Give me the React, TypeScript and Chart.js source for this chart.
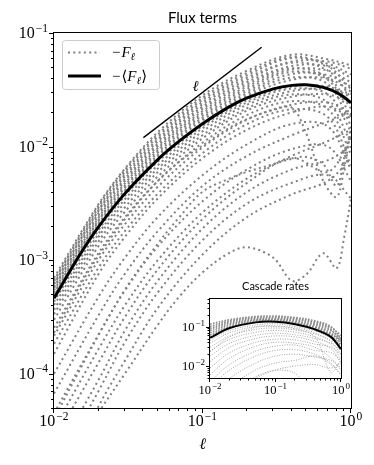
import React, { useEffect, useRef } from 'react';
import { Chart, registerables } from 'chart.js';

Chart.register(...registerables);

// ---------------- data ----------------
const ellCoarse = [0.01, 0.02, 0.03, 0.05, 0.1, 0.2, 0.4, 0.7, 1.0];
const ellFine = [0.01, 0.015, 0.02, 0.03, 0.05, 0.07, 0.1, 0.15, 0.2, 0.3, 0.4, 0.5, 0.65, 0.8, 0.9, 1.0];

const meanFlux = [4.62e-4, 1.127e-3, 1.977e-3, 3.855e-3, 7.69e-3, 1.122e-2, 1.592e-2, 2.228e-2, 2.685e-2, 3.221e-2, 3.459e-2, 3.499e-2, 3.319e-2, 2.992e-2, 2.723e-2, 2.427e-2];

// runs above the mean (coarse grid)
const fluxUpperBand = [
  [7.0e-4, 3.13e-3, 6.4e-3, 1.34e-2, 2.83e-2, 4.67e-2, 6.44e-2, 5.86e-2, 5.19e-2],
  [6.68e-4, 3.06e-3, 6.25e-3, 1.28e-2, 2.7e-2, 4.46e-2, 6.15e-2, 5.35e-2, 4.32e-2],
  [6.53e-4, 2.92e-3, 5.97e-3, 1.22e-2, 2.58e-2, 4.26e-2, 6.01e-2, 5.1e-2, 3.2e-2],
  [6.24e-4, 2.79e-3, 5.7e-3, 1.16e-2, 2.47e-2, 4.06e-2, 5.61e-2, 5.6e-2, 4.84e-2],
  [6.1e-4, 2.73e-3, 5.45e-3, 1.11e-2, 2.36e-2, 3.88e-2, 5.48e-2, 4.66e-2, 2.72e-2],
  [5.82e-4, 2.61e-3, 5.2e-3, 1.06e-2, 2.25e-2, 3.71e-2, 5.12e-2, 5.1e-2, 4.03e-2],
  [5.69e-4, 2.49e-3, 4.97e-3, 1.01e-2, 2.15e-2, 3.54e-2, 4.89e-2, 4.06e-2, 2.16e-2],
  [5.43e-4, 2.38e-3, 4.74e-3, 9.68e-3, 2.05e-2, 3.38e-2, 4.78e-2, 4.66e-2, 3.67e-2],
  [5.19e-4, 2.27e-3, 4.53e-3, 9.25e-3, 1.96e-2, 3.23e-2, 4.56e-2, 3.87e-2, 1.84e-2],
  [5.07e-4, 2.22e-3, 4.33e-3, 8.83e-3, 1.87e-2, 3.08e-2, 4.36e-2, 4.25e-2, 3.35e-2],
  [4.84e-4, 2.12e-3, 4.13e-3, 8.43e-3, 1.79e-2, 2.94e-2, 4.06e-2, 3.53e-2, 1.53e-2],
  [4.73e-4, 2.02e-3, 4.04e-3, 8.05e-3, 1.71e-2, 2.81e-2, 3.88e-2, 3.96e-2, 3.05e-2],
];

// runs just below the mean (coarse grid)
const fluxNearBand = [
  [4.32e-4, 1.85e-3, 3.68e-3, 7.35e-3, 1.52e-2, 2.56e-2, 3.38e-2, 3.37e-2, 2.72e-2],
  [4.03e-4, 1.72e-3, 3.44e-3, 6.85e-3, 1.45e-2, 2.45e-2, 3.23e-2, 2.87e-2, 1.36e-2],
  [3.67e-4, 1.61e-3, 3.21e-3, 6.4e-3, 1.36e-2, 2.34e-2, 3.08e-2, 3.22e-2, 2.92e-2],
  [3.35e-4, 1.47e-3, 2.92e-3, 5.97e-3, 1.26e-2, 2.18e-2, 2.88e-2, 2.44e-2, 1.08e-2],
  [2.99e-4, 1.34e-3, 2.67e-3, 5.45e-3, 1.18e-2, 2.08e-2, 2.75e-2, 2.87e-2, 2.43e-2],
  [2.54e-4, 1.16e-3, 2.38e-3, 4.97e-3, 1.08e-2, 1.9e-2, 2.51e-2, 2.13e-2, 8.6e-3],
  [2.16e-4, 1.01e-3, 2.07e-3, 4.43e-3, 9.82e-3, 1.73e-2, 2.34e-2, 2.44e-2, 1.93e-2],
  [1.84e-4, 8.63e-4, 1.8e-3, 3.85e-3, 8.75e-3, 1.58e-2, 2.13e-2, 1.81e-2, 6.84e-3],
];

// weaker runs (coarse grid)
const fluxLowRuns = [
  [1.5e-4, 7.6e-4, 1.6e-3, 3.5e-3, 7.9e-3, 1.41e-2, 2.0e-2, 2.24e-2, 1.78e-2],
  [1.0e-4, 4.8e-4, 1.05e-3, 2.4e-3, 5.6e-3, 1.05e-2, 1.58e-2, 1.5e-2, 6.3e-3],
  [6.7e-5, 3.3e-4, 7.6e-4, 1.8e-3, 4.5e-3, 8.3e-3, 1.26e-2, 1.66e-2, 2.0e-2],
  [4.5e-5, 2.24e-4, 5.4e-4, 1.32e-3, 3.3e-3, 6.3e-3, 9.5e-3, 1.0e-2, 5.0e-3],
  [3.3e-5, 1.66e-4, 4.0e-4, 1.0e-3, 2.63e-3, 5.25e-3, 8.3e-3, 1.12e-2, 1.41e-2],
  [2.6e-5, 1.26e-4, 3.16e-4, 8.3e-4, 2.3e-3, 4.8e-3, 7.9e-3, 6.0e-3, 1.2e-2],
  [1.8e-5, 8.9e-5, 2.4e-4, 6.6e-4, 1.9e-3, 4.0e-3, 6.3e-3, 7.6e-3, 1.0e-2],
  [1.4e-5, 7.1e-5, 1.9e-4, 5.2e-4, 1.5e-3, 3.16e-3, 4.8e-3, 5.6e-3, 3.5e-3],
  [8.0e-6, 5.2e-5, 1.3e-4, 3.8e-4, 1.12e-3, 2.4e-3, 3.8e-3, 5.0e-3, 7.9e-3],
];

// irregular runs (fine grid)
const fluxPlungeRun = [2.3e-4, 6.0e-4, 1.1e-3, 2.3e-3, 5.0e-3, 7.4e-3, 1.02e-2, 1.45e-2, 1.75e-2, 2.1e-2, 2.2e-2, 1.3e-2, 5.0e-3, 3.6e-3, 6.5e-3, 1.4e-2];
const fluxBendRun = [4.0e-5, 1.1e-4, 2.2e-4, 5.5e-4, 1.4e-3, 2.4e-3, 4.0e-3, 5.2e-3, 6.0e-3, 7.0e-3, 7.8e-3, 8.1e-3, 7.0e-3, 4.5e-3, 8.0e-3, 1.5e-2];
const fluxDipRun = [1.2e-5, 2.6e-5, 4.6e-5, 1.0e-4, 2.7e-4, 4.8e-4, 7.8e-4, 1.15e-3, 1.3e-3, 1.05e-3, 6.6e-4, 7.5e-4, 1.15e-3, 8.5e-4, 1.6e-3, 3.5e-3];

const refLineEll = [0.04, 0.25];
const refLineFlux = [0.012, 0.075];

const mainXTickExps = [-2, -1, 0];
const mainYTickExps = [-4, -3, -2, -1];

// inset: cascade rates
const ellInset = [0.01, 0.02, 0.05, 0.1, 0.2, 0.4, 0.7, 1.0];
const cascadeMean = [0.052, 0.092, 0.128, 0.133, 0.115, 0.085, 0.055, 0.027];
const cascadeUpperBand = [
  [0.115, 0.15, 0.18, 0.185, 0.17, 0.14, 0.1, 0.05],
  [0.1, 0.14, 0.17, 0.175, 0.16, 0.13, 0.095, 0.06],
  [0.09, 0.13, 0.16, 0.165, 0.15, 0.12, 0.085, 0.04],
  [0.08, 0.12, 0.15, 0.155, 0.14, 0.11, 0.08, 0.05],
  [0.07, 0.11, 0.145, 0.15, 0.13, 0.1, 0.07, 0.035],
  [0.062, 0.1, 0.138, 0.142, 0.125, 0.095, 0.065, 0.045],
  [0.056, 0.095, 0.132, 0.137, 0.12, 0.09, 0.06, 0.03],
];
const cascadeLowRuns = [
  [0.045, 0.08, 0.11, 0.118, 0.1, 0.078, 0.05, 0.03],
  [0.038, 0.07, 0.1, 0.105, 0.092, 0.07, 0.042, 0.02],
  [0.03, 0.058, 0.085, 0.092, 0.082, 0.065, 0.045, 0.035],
  [0.024, 0.048, 0.072, 0.08, 0.072, 0.055, 0.035, 0.015],
  [0.018, 0.038, 0.06, 0.068, 0.062, 0.05, 0.038, 0.025],
  [0.013, 0.03, 0.05, 0.058, 0.055, 0.042, 0.028, 0.012],
  [0.009, 0.022, 0.04, 0.048, 0.046, 0.036, 0.03, 0.02],
  [0.006, 0.016, 0.032, 0.04, 0.038, 0.03, 0.016, 0.008],
  [0.004, 0.011, 0.024, 0.032, 0.034, 0.025, 0.022, 0.014],
  [0.003, 0.008, 0.018, 0.025, 0.026, 0.02, 0.012, 0.006],
  [0.002, 0.005, 0.012, 0.018, 0.02, 0.017, 0.014, 0.009],
  [0.001, 0.003, 0.008, 0.012, 0.014, 0.018, 0.011, 0.006],
  [0.0006, 0.002, 0.005, 0.008, 0.01, 0.011, 0.009, 0.012],
  [0.023, 0.055, 0.096, 0.1, 0.087, 0.055, 0.007, 0.014],
  [0.0012, 0.0023, 0.0054, 0.0078, 0.0065, 0.0017, 0.0015, 0.0035],
];
const insetXTickExps = [-2, -1, 0];
const insetYTickExps = [-2, -1];

// ---------------- helpers ----------------
const SERIF = '"Liberation Serif", "DejaVu Serif", serif';
const SANS = 'Lato, "Open Sans", sans-serif';
const GRAY = '#808080';

const pts = (xs: number[], ys: number[]) => xs.map((x, i) => ({ x, y: ys[i] }));

function drawPow10(ctx: CanvasRenderingContext2D, exp: number, x: number, baseline: number, size: number, align: 'right' | 'center') {
  const baseFont = `${size}px ${SERIF}`;
  const supSize = size * 0.72;
  const supFont = `${supSize}px ${SERIF}`;
  const expStr = exp < 0 ? '\u2212' + Math.abs(exp) : String(exp);
  ctx.font = baseFont;
  const wBase = ctx.measureText('10').width;
  ctx.font = supFont;
  const wSup = ctx.measureText(expStr).width;
  const total = wBase + wSup + 1;
  const left = align === 'right' ? x - total : x - total / 2;
  ctx.textAlign = 'left';
  ctx.textBaseline = 'alphabetic';
  ctx.fillStyle = '#000';
  ctx.font = baseFont;
  ctx.fillText('10', left, baseline);
  ctx.font = supFont;
  ctx.fillText(expStr, left + wBase + 1, baseline - size * 0.4);
}

function drawLogTicks(chart: any, xExps: number[], yExps: number[], majorLen: number, minorLen: number) {
  const { ctx, chartArea: a, scales } = chart;
  const xs = scales.x, ys = scales.y;
  ctx.strokeStyle = '#000';
  ctx.lineWidth = 1;
  ctx.setLineDash([]);
  const L = a.left - 0.5, B = a.bottom + 0.5;
  for (let e = yExps[0] - 1; e <= yExps[yExps.length - 1]; e++) {
    for (let m = 1; m <= 9; m++) {
      const v = m * Math.pow(10, e);
      if (v < ys.min * 0.999 || v > ys.max * 1.001) continue;
      const py = Math.round(ys.getPixelForValue(v)) + 0.5;
      const len = m === 1 ? majorLen : minorLen;
      ctx.beginPath(); ctx.moveTo(L - len, py); ctx.lineTo(L, py); ctx.stroke();
    }
  }
  for (let e = xExps[0]; e <= xExps[xExps.length - 1]; e++) {
    for (let m = 1; m <= 9; m++) {
      const v = m * Math.pow(10, e);
      if (v < xs.min * 0.999 || v > xs.max * 1.001) continue;
      const px = Math.round(xs.getPixelForValue(v)) - 0.5;
      const len = m === 1 ? majorLen : minorLen;
      ctx.beginPath(); ctx.moveTo(px, B); ctx.lineTo(px, B + len); ctx.stroke();
    }
  }
  ctx.strokeRect(a.left - 0.5, a.top - 0.5, a.right - a.left + 1, a.bottom - a.top + 1);
}

function drawMathF(ctx: CanvasRenderingContext2D, x: number, baseline: number, size: number, brackets: boolean) {
  ctx.textAlign = 'left';
  ctx.textBaseline = 'alphabetic';
  ctx.fillStyle = '#000';
  let cx = x;
  ctx.font = `${size}px ${SERIF}`;
  ctx.fillText('\u2212', cx, baseline);
  cx += ctx.measureText('\u2212').width + 1;
  if (brackets) {
    ctx.font = `${size}px "DejaVu Serif", serif`;
    ctx.fillText('\u27E8', cx, baseline);
    cx += ctx.measureText('\u27E8').width;
  }
  ctx.font = `italic ${size}px ${SERIF}`;
  ctx.fillText('F', cx, baseline);
  cx += ctx.measureText('F').width;
  ctx.font = `italic ${size * 0.7}px "DejaVu Serif", serif`;
  ctx.fillText('\u2113', cx, baseline + size * 0.18);
  cx += ctx.measureText('\u2113').width + 0.5;
  if (brackets) {
    ctx.font = `${size}px "DejaVu Serif", serif`;
    ctx.fillText('\u27E9', cx, baseline);
  }
}

const mainDecor = {
  id: 'mainDecor',
  afterDraw(chart: any) {
    const { ctx, chartArea: a, scales } = chart;
    ctx.save();
    drawLogTicks(chart, mainXTickExps, mainYTickExps, 4.5, 2.5);
    for (const e of mainYTickExps) {
      const py = scales.y.getPixelForValue(Math.pow(10, e));
      drawPow10(ctx, e, a.left - 6, py + 5, 16, 'right');
    }
    for (const e of mainXTickExps) {
      const px = scales.x.getPixelForValue(Math.pow(10, e));
      drawPow10(ctx, e, px, a.bottom + 18, 16, 'center');
    }
    ctx.fillStyle = '#000';
    ctx.textAlign = 'center';
    ctx.textBaseline = 'alphabetic';
    ctx.font = `italic 16px "DejaVu Serif", serif`;
    ctx.fillText('\u2113', (a.left + a.right) / 2, a.top + 0 + (a.bottom - a.top) + 41);
    ctx.font = `15px ${SANS}`;
    ctx.fillText('Flux terms', (a.left + a.right) / 2, a.top - 10);
    // label of the slope-1 guide line
    const lx = scales.x.getPixelForValue(0.09);
    const ly = scales.y.getPixelForValue(0.035);
    ctx.font = `italic 15px "DejaVu Serif", serif`;
    ctx.fillText('\u2113', lx, ly + 6);
    // legend
    const bx = a.left + 8, by = a.top + 7, bw = 97, bh = 49;
    ctx.beginPath();
    ctx.roundRect(bx + 0.5, by + 0.5, bw, bh, 3);
    ctx.fillStyle = 'rgba(255,255,255,0.8)';
    ctx.fill();
    ctx.strokeStyle = '#cccccc';
    ctx.lineWidth = 1;
    ctx.stroke();
    ctx.strokeStyle = GRAY;
    ctx.lineWidth = 2;
    ctx.setLineDash([2, 3.3]);
    ctx.beginPath(); ctx.moveTo(bx + 6, by + 12.5); ctx.lineTo(bx + 38, by + 12.5); ctx.stroke();
    ctx.setLineDash([]);
    ctx.strokeStyle = '#000';
    ctx.lineWidth = 3;
    ctx.beginPath(); ctx.moveTo(bx + 6, by + 36); ctx.lineTo(bx + 39, by + 36); ctx.stroke();
    drawMathF(ctx, bx + 50, by + 17, 15, false);
    drawMathF(ctx, bx + 50, by + 41, 15, true);
    ctx.restore();
  },
};

const insetDecor = {
  id: 'insetDecor',
  beforeDatasetsDraw(chart: any) {
    const { ctx, chartArea: a } = chart;
    ctx.save();
    ctx.fillStyle = '#ffffff';
    ctx.fillRect(a.left, a.top, a.right - a.left, a.bottom - a.top);
    ctx.restore();
  },
  afterDraw(chart: any) {
    const { ctx, chartArea: a, scales } = chart;
    ctx.save();
    drawLogTicks(chart, insetXTickExps, insetYTickExps, 3.5, 2);
    for (const e of insetYTickExps) {
      const py = scales.y.getPixelForValue(Math.pow(10, e));
      drawPow10(ctx, e, a.left - 5, py + 4, 12.5, 'right');
    }
    for (const e of insetXTickExps) {
      const px = scales.x.getPixelForValue(Math.pow(10, e));
      drawPow10(ctx, e, px, a.bottom + 16, 12.5, 'center');
    }
    ctx.fillStyle = '#000';
    ctx.textAlign = 'center';
    ctx.textBaseline = 'alphabetic';
    ctx.font = `11px ${SANS}`;
    ctx.fillText('Cascade rates', (a.left + a.right) / 2, a.top - 9);
    ctx.restore();
  },
};

const grayLine = (data: any[], width = 2, dash = [2, 3.3], color = GRAY) => ({
  data,
  borderColor: color,
  borderWidth: width,
  borderDash: dash,
  borderCapStyle: 'butt' as const,
  pointRadius: 0,
  fill: false,
  tension: 0.35,
});

const commonOptions = (padding: any, yMin: number, yMax: number) => ({
  animation: false,
  responsive: false,
  devicePixelRatio: 1,
  layout: { padding },
  scales: {
    x: { type: 'logarithmic', min: 0.01, max: 1, display: false },
    y: { type: 'logarithmic', min: yMin, max: yMax, display: false },
  },
  plugins: { legend: { display: false }, tooltip: { enabled: false } },
  elements: { point: { radius: 0 }, line: { capBezierPoints: false } },
});

export default function App() {
  const mainRef = useRef<HTMLCanvasElement>(null);
  const insetRef = useRef<HTMLCanvasElement>(null);

  useEffect(() => {
    const datasets: any[] = [];
    datasets.push({
      data: pts(refLineEll, refLineFlux),
      borderColor: '#000', borderWidth: 1.4, pointRadius: 0, fill: false,
    });
    datasets.push({
      data: pts(ellFine, meanFlux),
      borderColor: '#000', borderWidth: 3, pointRadius: 0, fill: false, tension: 0.35,
    });
    for (const s of fluxUpperBand) datasets.push(grayLine(pts(ellCoarse, s)));
    for (const s of fluxNearBand) datasets.push(grayLine(pts(ellCoarse, s)));
    for (const s of fluxLowRuns) datasets.push(grayLine(pts(ellCoarse, s)));
    datasets.push(grayLine(pts(ellFine, fluxPlungeRun)));
    datasets.push(grayLine(pts(ellFine, fluxBendRun)));
    datasets.push(grayLine(pts(ellFine, fluxDipRun)));

    const main = new Chart(mainRef.current!, {
      type: 'line',
      data: { datasets },
      options: commonOptions({ left: 54, top: 33, right: 23, bottom: 57 }, 5e-5, 0.1) as any,
      plugins: [mainDecor],
    });

    const insetSets: any[] = [];
    insetSets.push({
      data: pts(ellInset, cascadeMean),
      borderColor: '#000', borderWidth: 2, pointRadius: 0, fill: false, tension: 0.35,
    });
    for (const s of cascadeUpperBand) insetSets.push(grayLine(pts(ellInset, s), 1.6, [1.6, 1.4], '#8a8a8a'));
    for (const s of cascadeLowRuns) insetSets.push(grayLine(pts(ellInset, s), 0.9, [1, 1.5], '#9a9a9a'));

    const inset = new Chart(insetRef.current!, {
      type: 'line',
      data: { datasets: insetSets },
      options: commonOptions({ left: 60, top: 29, right: 19, bottom: 32 }, 0.005, 0.5) as any,
      plugins: [insetDecor],
    });

    return () => {
      main.destroy();
      inset.destroy();
    };
  }, []);

  return (
    <div style={{ position: 'absolute', left: 0, top: 0, width: 374, height: 465, background: '#fff' }}>
      <canvas ref={mainRef} width={374} height={465} style={{ position: 'absolute', left: 0, top: 0, width: 374, height: 465 }} />
      <canvas ref={insetRef} width={210} height={140} style={{ position: 'absolute', left: 150, top: 270, width: 210, height: 140 }} />
    </div>
  );
}
